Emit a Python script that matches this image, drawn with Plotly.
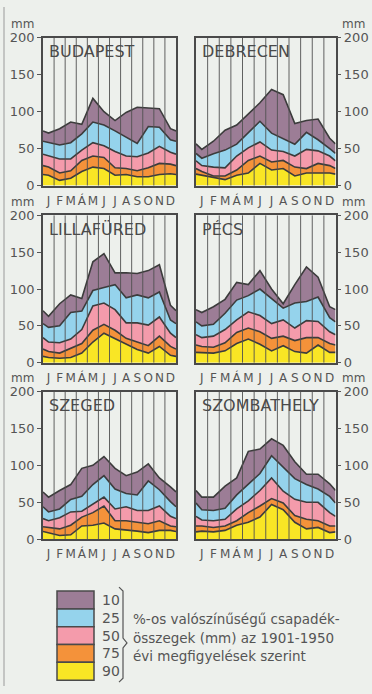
import plotly.graph_objects as go

W, H = 372, 694

months = ["J", "F", "M", "Á", "M", "J", "J", "A", "S", "O", "N", "D"]
stations = ["BUDAPEST", "DEBRECEN", "LILLAFÜRED", "PÉCS", "SZEGED", "SZOMBATHELY"]
percent_labels = ["10", "25", "50", "75", "90"]
band_colors = ["#9c7d96", "#95d3ec", "#f49bab", "#f4923a", "#f9e625"]
y_ticks = [0, 50, 100, 150, 200]
legend_lines = ["%-os valószínűségű csapadék-", "összegek (mm) az 1901-1950", "évi megfigyelések szerint"]

# percentile curves (mm), Jan..Dec
budapest_p10 = [71, 77, 86, 83, 118, 100, 88, 99, 106, 105, 104, 77]
budapest_p25 = [58, 55, 58, 70, 86, 82, 74, 66, 57, 80, 79, 62]
budapest_p50 = [40, 36, 36, 48, 58, 54, 46, 40, 39, 44, 53, 45]
budapest_p75 = [25, 17, 20, 34, 40, 38, 24, 23, 20, 24, 30, 29]
budapest_p90 = [14, 7, 10, 19, 25, 23, 14, 15, 12, 12, 15, 16]

debrecen_p10 = [49, 60, 75, 82, 97, 112, 130, 123, 84, 88, 90, 64]
debrecen_p25 = [37, 43, 48, 56, 71, 87, 71, 63, 56, 72, 62, 50]
debrecen_p50 = [27, 25, 24, 40, 51, 59, 48, 46, 40, 49, 47, 40]
debrecen_p75 = [19, 13, 13, 21, 34, 40, 32, 34, 25, 23, 30, 27]
debrecen_p90 = [14, 10, 8, 14, 17, 30, 21, 23, 13, 17, 17, 17]

lillafured_p10 = [63, 80, 92, 87, 137, 148, 122, 122, 121, 125, 133, 78]
lillafured_p25 = [48, 50, 68, 70, 98, 102, 106, 88, 92, 88, 96, 58]
lillafured_p50 = [28, 27, 32, 45, 77, 81, 72, 54, 54, 51, 62, 40]
lillafured_p75 = [15, 13, 19, 26, 44, 52, 44, 33, 28, 23, 36, 22]
lillafured_p90 = [7, 6, 7, 13, 28, 40, 33, 26, 18, 13, 22, 10]

pecs_p10 = [68, 76, 86, 109, 106, 125, 100, 80, 106, 130, 116, 76]
pecs_p25 = [50, 52, 67, 85, 91, 100, 87, 74, 81, 83, 89, 61]
pecs_p50 = [34, 36, 45, 58, 69, 64, 53, 58, 47, 57, 56, 42]
pecs_p75 = [22, 21, 27, 41, 47, 42, 33, 36, 30, 34, 34, 26]
pecs_p90 = [14, 13, 16, 26, 32, 25, 16, 23, 15, 13, 24, 14]

szeged_p10 = [57, 66, 74, 96, 100, 112, 96, 86, 91, 102, 83, 71]
szeged_p25 = [37, 41, 54, 58, 74, 86, 68, 62, 60, 79, 67, 51]
szeged_p50 = [25, 29, 37, 38, 48, 57, 41, 44, 39, 39, 45, 31]
szeged_p75 = [16, 14, 19, 30, 36, 45, 25, 25, 23, 21, 25, 18]
szeged_p90 = [9, 5, 6, 18, 19, 22, 14, 13, 11, 9, 12, 12]

szombathely_p10 = [57, 57, 72, 83, 119, 122, 136, 127, 105, 88, 88, 75]
szombathely_p25 = [40, 39, 42, 60, 74, 89, 113, 98, 82, 74, 68, 58]
szombathely_p50 = [26, 25, 27, 41, 52, 66, 83, 65, 54, 50, 50, 36]
szombathely_p75 = [18, 16, 18, 25, 36, 45, 55, 49, 32, 27, 25, 18]
szombathely_p90 = [11, 10, 12, 19, 23, 30, 47, 40, 23, 14, 16, 9]

station_curves = [
    [budapest_p10, budapest_p25, budapest_p50, budapest_p75, budapest_p90],
    [debrecen_p10, debrecen_p25, debrecen_p50, debrecen_p75, debrecen_p90],
    [lillafured_p10, lillafured_p25, lillafured_p50, lillafured_p75, lillafured_p90],
    [pecs_p10, pecs_p25, pecs_p50, pecs_p75, pecs_p90],
    [szeged_p10, szeged_p25, szeged_p50, szeged_p75, szeged_p90],
    [szombathely_p10, szombathely_p25, szombathely_p50, szombathely_p75, szombathely_p90],
]

BG = "#edf0ec"
INK = "#3c3c3c"
TXT = "#555555"
FONT = "DejaVu Sans"

def px_x(p):
    return p / W

def px_y(p):
    return 1 - p / H

col_px = [(43, 176), (196, 335.5)]
row_px = [(31.5, 182.5), (213, 363.5), (393, 544)]

fig = go.Figure()
layout = {}
annotations = []
shapes = []

for i, name in enumerate(stations):
    r, c = divmod(i, 2)
    n = i + 1
    xa = "x" if n == 1 else f"x{n}"
    ya = "y" if n == 1 else f"y{n}"
    xkey = "xaxis" if n == 1 else f"xaxis{n}"
    ykey = "yaxis" if n == 1 else f"yaxis{n}"
    curves = station_curves[i]
    xs = [-0.5] + list(range(12)) + [11.5]
    # draw from the 90% curve (bottom) up to the 10% curve (top)
    for j in range(4, -1, -1):
        vals = curves[j]
        edge = (vals[0] + vals[-1]) / 2
        ys = [edge] + vals + [edge]
        fig.add_trace(go.Scatter(
            x=xs, y=ys, xaxis=xa, yaxis=ya, mode="lines",
            line=dict(color=INK, width=1.6),
            fill="tozeroy" if j == 4 else "tonexty",
            fillcolor=band_colors[j], showlegend=False, hoverinfo="skip",
        ))
    x0, x1 = col_px[c]
    y0, y1 = row_px[r]
    layout[xkey] = dict(
        domain=[px_x(x0), px_x(x1)], range=[-0.5, 11.5], anchor=ya,
        tickmode="array", tickvals=list(range(12)), ticktext=months,
        tickangle=0, showgrid=False, zeroline=False, ticks="", ticklabelstandoff=3,
        showline=True, mirror=True, linecolor="#4a4a4a", linewidth=1.5,
        tickfont=dict(family=FONT, size=12, color=TXT), fixedrange=True,
    )
    layout[ykey] = dict(
        domain=[px_y(y1), px_y(y0)], range=[0, 200], anchor=xa,
        tickmode="array", tickvals=y_ticks, side="left" if c == 0 else "right",
        showgrid=False, zeroline=False, ticks="outside", ticklen=4,
        tickcolor="#555", tickwidth=1,
        showline=True, mirror=True, linecolor="#4a4a4a", linewidth=1.5,
        tickfont=dict(family=FONT, size=13, color=TXT), fixedrange=True,
    )
    # vertical month dividers drawn above the bands
    for k in range(11):
        shapes.append(dict(
            type="line", xref=xa, yref=f"{ya} domain", x0=k + 0.5, x1=k + 0.5,
            y0=0, y1=1, line=dict(color="#505050", width=0.9), layer="above",
        ))
    # station name
    annotations.append(dict(
        x=px_x(x0 + 4), y=px_y(y0 + 14), xref="paper", yref="paper",
        text=name, showarrow=False, xanchor="left", yanchor="middle",
        font=dict(family=FONT, size=16, color="#4a4a4a"),
    ))
    # unit label, kept clear of the "200" tick label
    if c == 0:
        annotations.append(dict(
            x=px_x(36), y=px_y(y0 - 14), xref="paper", yref="paper", text="mm",
            showarrow=False, xanchor="right", yanchor="middle",
            font=dict(family=FONT, size=12, color=TXT),
        ))
    else:
        annotations.append(dict(
            x=px_x(340), y=px_y(y0 - 14), xref="paper", yref="paper", text="mm",
            showarrow=False, xanchor="left", yanchor="middle",
            font=dict(family=FONT, size=12, color=TXT),
        ))

# legend block
lx0, lx1 = 57, 94
ly_top, box_h = 597, 18.2
for j, lab in enumerate(percent_labels):
    t = ly_top + j * box_h
    shapes.append(dict(
        type="rect", xref="paper", yref="paper",
        x0=px_x(lx0), x1=px_x(lx1), y0=px_y(t + box_h), y1=px_y(t),
        fillcolor=band_colors[j], line=dict(color="#4a4a4a", width=1.5),
    ))
    annotations.append(dict(
        x=px_x(100), y=px_y(t + box_h / 2), xref="paper", yref="paper",
        text=lab, showarrow=False, xanchor="left", yanchor="middle",
        font=dict(family=FONT, size=14, color=TXT),
    ))

# brace
pts = [(119, 593), (123, 597), (123, 645), (127, 650), (123, 655), (123, 686), (119, 690)]
path = "M " + " L ".join(f"{px_x(a):.5f},{px_y(b):.5f}" for a, b in pts)
shapes.append(dict(type="path", xref="paper", yref="paper", path=path,
                   line=dict(color="#555", width=1.2)))

for k, line in enumerate(legend_lines):
    annotations.append(dict(
        x=px_x(131), y=px_y(626 + k * 18.5), xref="paper", yref="paper",
        text=line, showarrow=False, xanchor="left", yanchor="middle",
        font=dict(family=FONT, size=13.5, color=TXT),
    ))

# page edge line at left
shapes.append(dict(type="line", xref="paper", yref="paper", x0=px_x(4), x1=px_x(4),
                   y0=0, y1=1, line=dict(color="#9a9a9a", width=1)))

fig.update_layout(
    width=W, height=H, autosize=False,
    margin=dict(l=0, r=0, t=0, b=0),
    paper_bgcolor=BG, plot_bgcolor=BG,
    showlegend=False, annotations=annotations, shapes=shapes,
    **layout,
)

fig.write_html(
    "out.html",
    config={"displayModeBar": False},
    post_script="document.body.style.margin='0';document.body.style.overflow='hidden';",
)
